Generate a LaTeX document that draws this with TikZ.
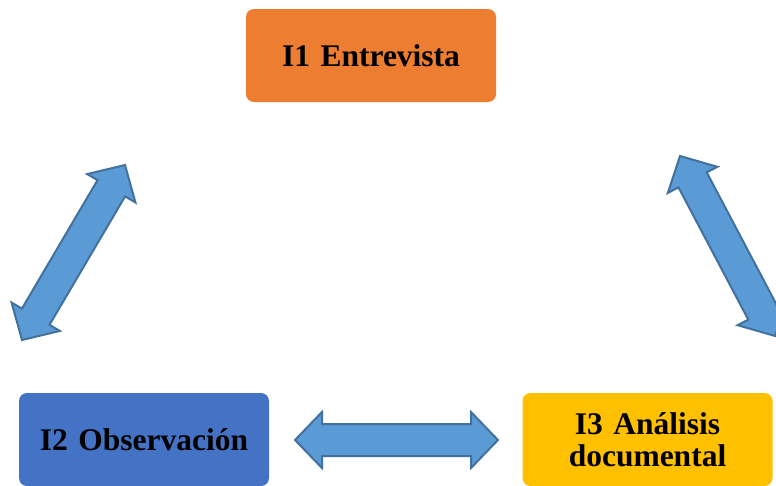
\documentclass[tikz,border=0pt]{standalone}
\usepackage{fontspec}
\setmainfont{Liberation Serif}
\usetikzlibrary{calc}
\definecolor{orangebox}{HTML}{ED7D31}
\definecolor{bluebox}{HTML}{4472C4}
\definecolor{goldbox}{HTML}{FFC000}
\definecolor{arrowfill}{HTML}{5B9BD5}
\definecolor{arrowline}{HTML}{41719C}
\tikzset{
  topic/.style={rounded corners=8pt, minimum width=250pt, minimum height=93pt,
    inner sep=0pt, align=center, text width=240pt,
    font=\bfseries\fontsize{31.5}{31.7}\selectfont},
  barrow/.style={fill=arrowfill, draw=arrowline, line width=2pt, line join=miter}
}
\newcommand\dblarrow[2]{%
  \draw[barrow] (#1)
    -- ($(#1)!27pt!(#2)!28pt!90:(#2)$)
    -- ($(#1)!27pt!(#2)!16pt!90:(#2)$)
    -- ($(#2)!27pt!(#1)!16pt!-90:(#1)$)
    -- ($(#2)!27pt!(#1)!28pt!-90:(#1)$)
    -- (#2)
    -- ($(#2)!27pt!(#1)!28pt!90:(#1)$)
    -- ($(#2)!27pt!(#1)!16pt!90:(#1)$)
    -- ($(#1)!27pt!(#2)!16pt!-90:(#2)$)
    -- ($(#1)!27pt!(#2)!28pt!-90:(#2)$)
    -- cycle;}
\begin{document}
\begin{tikzpicture}[x=1pt,y=-1pt]
  \useasboundingbox (0,0) rectangle (776,485);
  \clip (0,0) rectangle (776,485);
  % boxes
  \node[topic, fill=orangebox] (i1) at (371,55.5) {I1 Entrevista};
  \node[topic, fill=bluebox] (i2) at (144,439.5) {I2 Observación};
  \node[topic, fill=goldbox] (i3) at (647.5,439.5) {I3 Análisis\\documental};
  % arrow ends
  \coordinate (la) at (22,340);
  \coordinate (lb) at (125,165);
  \coordinate (ra) at (680,156);
  \coordinate (rb) at (775,336);
  \coordinate (ha) at (295,440);
  \coordinate (hb) at (498,440);
  \dblarrow{la}{lb}
  \dblarrow{ra}{rb}
  \dblarrow{ha}{hb}
\end{tikzpicture}
\end{document}
